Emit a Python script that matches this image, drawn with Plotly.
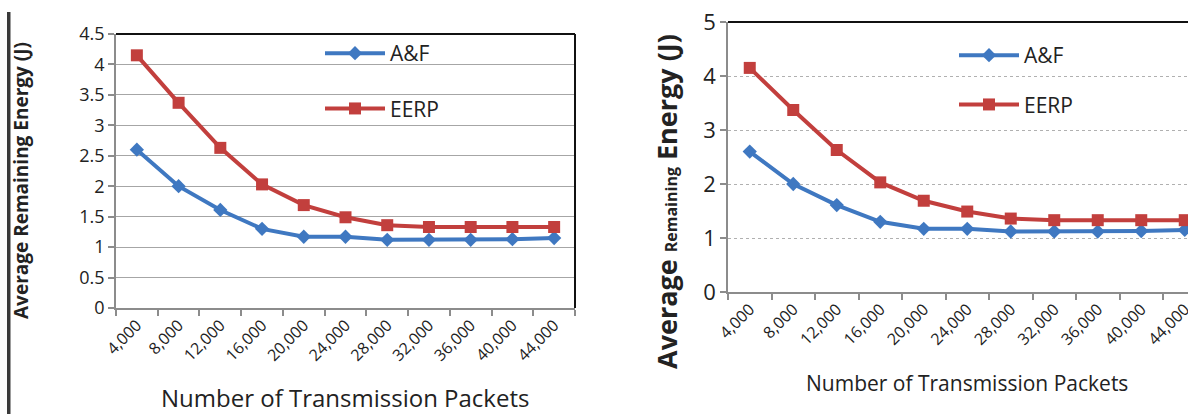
import plotly.graph_objects as go

# Number of transmission packets (category axis)
packets = ["4,000", "8,000", "12,000", "16,000", "20,000", "24,000",
           "28,000", "32,000", "36,000", "40,000", "44,000"]

# Average remaining energy (J) for each protocol
af_energy = [2.60, 2.00, 1.61, 1.30, 1.17, 1.17, 1.12, 1.12, 1.12, 1.13, 1.15]
eerp_energy = [4.15, 3.37, 2.63, 2.03, 1.69, 1.49, 1.36, 1.33, 1.33, 1.33, 1.33]

W, H = 1188, 414
BLUE = "#3f78c1"
RED = "#c23f3d"
FONT = "Open Sans"
TEXT = "#222222"


def px_x(p):
    return p / W


def px_y(p):
    return 1 - p / H


fig = go.Figure()

for idx, legend_name in ((1, "legend"), (2, "legend2")):
    xa = "x" if idx == 1 else "x2"
    ya = "y" if idx == 1 else "y2"
    fig.add_trace(go.Scatter(
        x=packets, y=af_energy, name="A&F", mode="lines+markers",
        line=dict(color=BLUE, width=4),
        marker=dict(symbol="diamond", size=11, color=BLUE),
        xaxis=xa, yaxis=ya, legend=legend_name, legendgroup=f"af{idx}",
        cliponaxis=True,
    ))
    fig.add_trace(go.Scatter(
        x=packets, y=eerp_energy, name="EERP", mode="lines+markers",
        line=dict(color=RED, width=4),
        marker=dict(symbol="square", size=12, color=RED),
        xaxis=xa, yaxis=ya, legend=legend_name, legendgroup=f"eerp{idx}",
        cliponaxis=True,
    ))

# Left panel geometry
L_x0, L_x1, L_yb, L_yt = 116, 575, 308, 34
# Right panel geometry (extends past the page edge)
R_x0, R_yb, R_yt = 728, 292, 22
R_step = 43.5
R_xmax = -0.5 + (W - R_x0) / R_step

axis_common = dict(
    showline=True, linecolor="#8c8c8c", linewidth=1.5,
    ticks="outside", ticklen=6, tickcolor="#8c8c8c", tickwidth=1.5,
    zeroline=False, automargin=False,
)


def title_note(text, x, y, size, angle=0):
    return dict(text=text, xref="paper", yref="paper", x=px_x(x), y=px_y(y),
                xanchor="center", yanchor="middle", showarrow=False,
                textangle=angle, font=dict(size=size, family=FONT, color=TEXT))


fig.update_layout(
    width=W, height=H,
    margin=dict(l=0, r=0, t=0, b=0),
    paper_bgcolor="white", plot_bgcolor="white",
    font=dict(family=FONT, color=TEXT),
    xaxis=dict(
        domain=[px_x(L_x0), px_x(L_x1)], anchor="y", type="category",
        range=[-0.5, 10.5], tickson="boundaries", tickangle=-45,
        tickfont=dict(size=16, family=FONT, color=TEXT), showgrid=False,
        **axis_common,
    ),
    yaxis=dict(
        domain=[px_y(L_yb), px_y(L_yt)], anchor="x",
        range=[0, 4.5], tickvals=[0, 0.5, 1, 1.5, 2, 2.5, 3, 3.5, 4, 4.5],
        ticktext=["0", "0.5", "1", "1.5", "2", "2.5", "3", "3.5", "4", "4.5"],
        tickfont=dict(size=18, family=FONT, color=TEXT),
        showgrid=True, gridcolor="#a6a6a6", gridwidth=1,
        **axis_common,
    ),
    xaxis2=dict(
        domain=[px_x(R_x0), 1.0], anchor="y2", type="category",
        range=[-0.5, R_xmax], tickson="boundaries", tickangle=-45,
        tickfont=dict(size=16, family=FONT, color=TEXT), showgrid=False,
        **axis_common,
    ),
    yaxis2=dict(
        domain=[px_y(R_yb), px_y(R_yt)], anchor="x2",
        range=[0, 5], tickvals=[0, 1, 2, 3, 4, 5],
        tickfont=dict(size=22, family=FONT, color=TEXT),
        showgrid=True, gridcolor="#b0b0b0", gridwidth=1, griddash="dot",
        **axis_common,
    ),
    legend=dict(
        x=px_x(320), y=px_y(33), xanchor="left", yanchor="top",
        bgcolor="rgba(0,0,0,0)", font=dict(size=21, family=FONT, color=TEXT),
        tracegroupgap=25, itemwidth=60,
    ),
    legend2=dict(
        x=px_x(954), y=px_y(35), xanchor="left", yanchor="top",
        bgcolor="rgba(0,0,0,0)", font=dict(size=21, family=FONT, color=TEXT),
        tracegroupgap=19, itemwidth=60,
    ),
    annotations=[
        title_note("Number of Transmission Packets", 345, 397, 24),
        title_note("Number of Transmission Packets", 967, 383, 21),
        title_note("<b>Average Remaining Energy (J)</b>", 21, 181, 19, -90),
        title_note("<b>Average <span style='font-size:16px'>Remaining</span>"
                   " Energy (J)</b>", 667, 202, 27, -90),
    ],
    shapes=[
        # dark frame edges on the left panel (top and right)
        dict(type="line", xref="x domain", yref="y domain",
             x0=0, x1=1, y0=1, y1=1, line=dict(color="#111111", width=2)),
        dict(type="line", xref="x domain", yref="y domain",
             x0=1, x1=1, y0=0, y1=1, line=dict(color="#111111", width=2)),
        # dark top edge on the right panel
        dict(type="line", xref="x2 domain", yref="y2 domain",
             x0=0, x1=1, y0=1, y1=1, line=dict(color="#111111", width=2)),
        # page border bar on the far left
        dict(type="rect", xref="paper", yref="paper",
             x0=px_x(7), x1=px_x(10.5), y0=0, y1=px_y(12),
             line=dict(width=0), fillcolor="#3a3a3a"),
    ],
)

fig.write_html("out.html")
